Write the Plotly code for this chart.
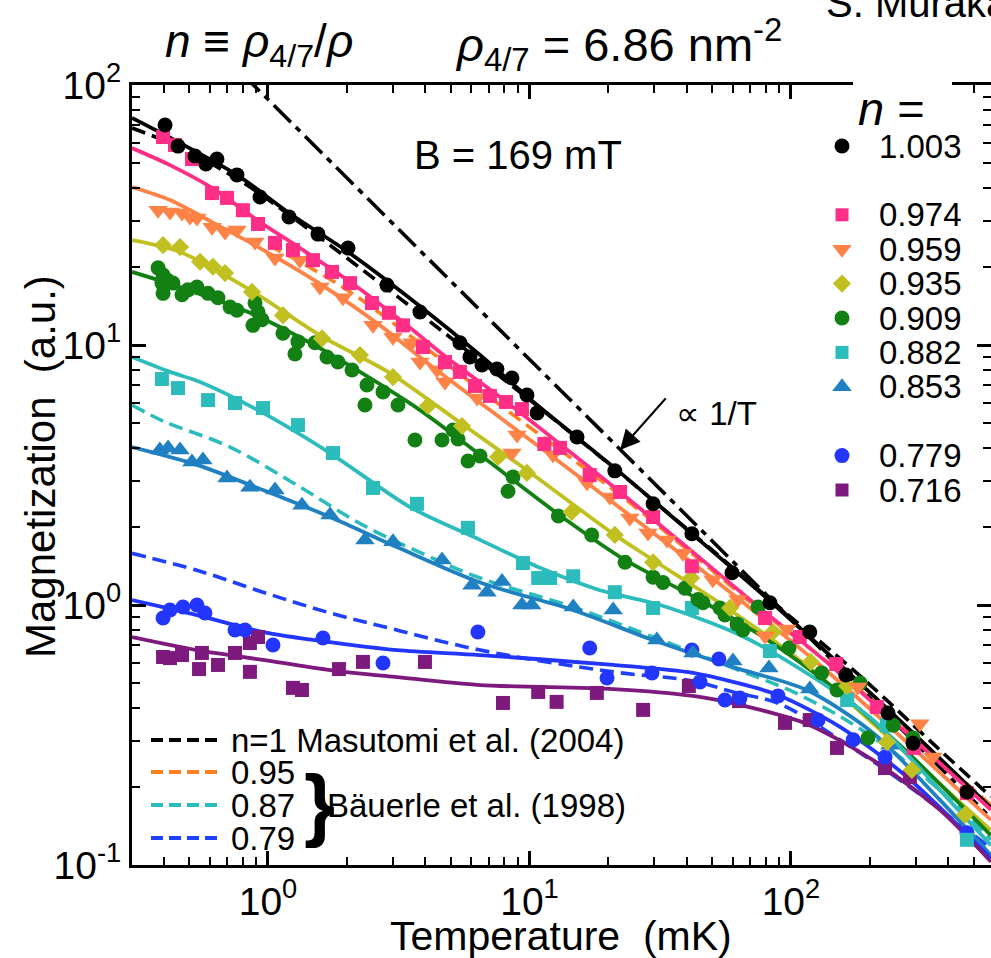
import plotly.graph_objects as go

# ---------------------------------------------------------------- data
# Magnetization (a.u.) vs temperature (mK) for several fillings n = rho_4/7 / rho
n_labels = ["1.003", "0.974", "0.959", "0.935", "0.909", "0.882", "0.853", "0.779", "0.716"]

T_1003 = [0.404, 0.453, 0.526, 0.579, 0.638, 0.761, 0.932, 1.203, 1.553, 2.023, 2.852, 3.814, 5.42, 5.92,
          6.58, 7.51, 8.57, 9.78, 10.7, 15.2, 21.2, 29.7, 41.8, 59.5, 83.1, 118, 162, 235, 293, 471]
M_1003 = [70.2, 58.2, 53.3, 49.7, 51.9, 45.1, 37.1, 31.1, 26.7, 23.6, 17.0, 13.4, 10.2, 9.0,
          8.38, 8.09, 7.47, 6.42, 5.48, 4.43, 3.28, 2.45, 1.88, 1.33, 1.02, 0.787, 0.538, 0.384, 0.294, 0.191]

T_0974 = [0.397, 0.441, 0.512, 0.611, 0.697, 0.802, 0.916, 1.064, 1.246, 1.486, 1.757, 2.059, 2.498, 2.902,
          3.282, 3.914, 4.753, 5.42, 6.19, 7.06, 8.13, 9.36, 11.4, 13.1, 17.0, 22.2, 29.7, 41.8, 79.6, 108,
          149, 213, 295, 471]
M_0974 = [63.1, 58.8, 51.9, 38.4, 36.8, 33.0, 29.2, 24.7, 23.2, 21.2, 19.1, 17.3, 14.5, 13.3,
          11.9, 9.82, 8.60, 7.88, 6.96, 6.37, 6.04, 5.67, 4.16, 4.02, 3.16, 2.72, 2.18, 1.41, 0.891, 0.753,
          0.593, 0.405, 0.282, 0.189]

T_0959 = [0.380, 0.422, 0.469, 0.503, 0.535, 0.611, 0.685, 0.761, 0.892, 1.064, 1.325, 1.580, 1.935, 2.521,
          3.006, 3.553, 3.814, 4.429, 4.753, 6.30, 8.57, 8.96, 12.3, 16.6, 20.3, 24.2, 28.4, 33.6, 38.6,
          50.3, 62.7, 79.6, 96.5, 180, 311, 349]
M_0959 = [33.0, 32.5, 32.2, 31.1, 30.8, 28.4, 27.2, 27.7, 24.9, 21.6, 21.2, 16.7, 15.2, 11.9,
          10.7, 10.2, 8.60, 8.01, 7.21, 6.25, 3.84, 4.51, 3.78, 2.95, 2.60, 2.16, 1.89, 1.78, 1.58,
          1.25, 1.05, 0.760, 0.809, 0.484, 0.349, 0.260]

T_0935 = [0.397, 0.461, 0.550, 0.616, 0.685, 0.869, 1.141, 1.609, 2.248, 3.006, 4.09, 5.52, 7.58, 9.78,
          14.5, 21.2, 29.7, 41.5, 58.5, 85.3, 119, 164, 233, 290, 463]
M_0935 = [24.2, 23.8, 20.9, 20.0, 18.9, 16.0, 13.0, 10.6, 9.15, 7.53, 5.83, 4.88, 3.71, 3.22,
          2.28, 1.86, 1.46, 1.27, 0.974, 0.787, 0.604, 0.488, 0.297, 0.232, 0.156]

T_0909 = [0.380, 0.397, 0.393, 0.411, 0.433, 0.397, 0.469, 0.494, 0.535, 0.590, 0.644, 0.716, 0.761, 0.892,
          0.916, 0.876, 0.948, 1.141, 1.302, 1.268, 1.513, 1.681, 1.852, 2.096, 2.391, 2.754, 3.142, 2.349,
          3.648, 4.63, 5.10, 5.33, 5.82, 6.47, 8.28, 8.65, 12.9, 17.3, 23.2, 29.7, 32.4, 39.3, 44.1, 46.1,
          53.5, 55.9, 62.2, 65.5, 74.8, 98.3, 131, 150, 184, 197, 246, 293]
M_0909 = [19.8, 18.6, 17.3, 17.8, 17.3, 15.8, 15.6, 16.3, 16.7, 15.8, 15.2, 14.0, 13.6, 14.5,
          13.4, 11.9, 12.5, 11.1, 10.3, 9.23, 10.2, 8.99, 8.60, 8.01, 7.02, 6.60, 5.88, 5.88,
          4.31, 4.31, 4.71, 4.35, 3.58, 3.74, 2.74, 3.11, 2.20, 1.86, 1.46, 1.28, 1.22, 1.16, 1.05, 1.02,
          0.974, 0.915, 0.845, 0.801, 0.982, 0.683, 0.548, 0.471, 0.501, 0.308, 0.345, 0.308]

T_0882 = [0.393, 0.453, 0.590, 0.748, 0.957, 1.302, 1.773, 2.521, 3.713, 5.82, 9.44, 10.8, 12.0, 14.7,
          21.2, 29.7, 41.8, 62.2, 83.1, 164, 233, 471]
M_0882 = [7.40, 6.83, 6.14, 5.98, 5.72, 4.92, 3.84, 2.82, 2.45, 1.98, 1.45, 1.27, 1.27, 1.29,
          1.12, 0.974, 0.974, 0.838, 0.665, 0.431, 0.345, 0.125]

T_0853 = [0.386, 0.415, 0.461, 0.512, 0.564, 0.697, 0.853, 1.064, 1.349, 1.727, 2.349, 3.006, 4.63, 6.03,
          6.88, 7.85, 9.36, 10.2, 14.7, 20.9, 30.7, 42.2, 60.0, 82.4, 118, 239]
M_0853 = [3.95, 4.02, 3.95, 3.55, 3.61, 3.08, 2.84, 2.77, 2.42, 2.22, 1.78, 1.75, 1.49, 1.19,
          1.12, 1.23, 1.00, 1.00, 0.982, 0.957, 0.733, 0.654, 0.609, 0.573, 0.475, 0.289]

T_0779 = [0.397, 0.422, 0.473, 0.535, 0.574, 0.748, 0.817, 1.045, 1.623, 2.754, 6.35, 17.0, 19.8, 29.4,
          41.8, 44.9, 53.0, 55.9, 63.8, 89.2, 127, 173, 229, 471]
M_0779 = [0.891, 0.957, 0.982, 1.00, 0.932, 0.801, 0.801, 0.702, 0.747, 0.598, 0.787, 0.683, 0.524, 0.548,
          0.671, 0.506, 0.620, 0.431, 0.439, 0.447, 0.361, 0.303, 0.260, 0.133]

T_0716 = [0.397, 0.422, 0.469, 0.559, 0.545, 0.644, 0.748, 0.853, 0.916, 0.853, 1.246, 1.349, 1.868, 2.308,
          3.984, 7.92, 10.8, 12.7, 18.1, 27.2, 40.7, 63.3, 94.9, 118, 150, 229, 285]
M_0716 = [0.631, 0.625, 0.642, 0.654, 0.567, 0.588, 0.654, 0.714, 0.753, 0.553, 0.480, 0.471, 0.567, 0.604,
          0.604, 0.420, 0.463, 0.424, 0.459, 0.395, 0.488, 0.427, 0.352, 0.361, 0.282, 0.236, 0.218]

# fitted curves (solid lines), one per filling
fitT_1003 = [0.302, 0.453, 0.761, 1.203, 2.023, 3.814, 6.47, 10.7, 21.2, 41.8, 83.1, 162, 293, 582]
fitM_1003 = [74.7, 60.4, 45.1, 32.2, 22.8, 14.1, 9.15, 5.88, 3.36, 1.88, 1.036, 0.562, 0.322, 0.166]
fitT_0974 = [0.302, 0.422, 0.611, 0.932, 1.325, 2.059, 3.198, 4.966, 7.71, 13.08, 22.2, 41.1, 76.1, 141, 261, 582]
fitM_0974 = [57.2, 49.2, 40.2, 29.7, 23.6, 17.5, 12.5, 8.75, 6.31, 4.16, 2.72, 1.63, 0.974, 0.588, 0.340, 0.163]
fitT_0959 = [0.302, 0.422, 0.611, 0.932, 1.609, 2.681, 4.165, 7.06, 11.98, 20.3, 37.6, 69.7, 129, 239, 582]
fitM_0959 = [40.5, 36.1, 29.7, 23.6, 17.0, 11.9, 8.38, 5.62, 3.78, 2.53, 1.58, 0.974, 0.588, 0.340, 0.149]
fitT_0935 = [0.302, 0.461, 0.853, 1.580, 2.928, 5.52, 9.78, 21.2, 29.7, 58.5, 118, 219, 582]
fitM_0935 = [25.3, 22.8, 16.3, 10.9, 7.80, 4.97, 3.30, 1.86, 1.49, 0.957, 0.573, 0.331, 0.136]
fitT_0909 = [0.302, 0.461, 0.853, 1.448, 2.248, 3.814, 6.47, 12.85, 23.2, 44.9, 76.1, 141, 261, 582]
fitM_0909 = [19.1, 16.7, 13.3, 10.2, 7.88, 5.62, 3.78, 2.24, 1.49, 1.045, 0.767, 0.492, 0.289, 0.130]
fitT_0882 = [0.302, 0.422, 0.550, 0.957, 1.727, 3.491, 6.47, 10.97, 18.6, 31.6, 63.8, 118, 206, 371, 582]
fitM_0882 = [8.99, 7.88, 7.21, 5.48, 3.84, 2.38, 1.78, 1.39, 1.14, 1.00, 0.767, 0.538, 0.361, 0.194, 0.119]
fitT_0853 = [0.302, 0.535, 0.957, 1.727, 3.113, 6.47, 14.67, 29.7, 60.0, 115, 206, 371, 582]
fitM_0853 = [4.05, 3.46, 2.77, 2.18, 1.67, 1.22, 0.957, 0.733, 0.577, 0.471, 0.322, 0.178, 0.109]
fitT_0779 = [0.302, 0.535, 0.957, 1.727, 3.113, 6.47, 20.9, 42.2, 60.0, 89.2, 154, 278, 582]
fitM_0779 = [1.045, 0.915, 0.787, 0.720, 0.671, 0.642, 0.588, 0.548, 0.506, 0.451, 0.340, 0.218, 0.106]
fitT_0716 = [0.302, 0.535, 0.957, 1.727, 3.113, 6.47, 20.9, 42.2, 63.8, 115, 206, 371, 582]
fitM_0716 = [0.753, 0.671, 0.615, 0.562, 0.528, 0.492, 0.475, 0.447, 0.413, 0.349, 0.253, 0.163, 0.103]

# literature curves (dashed)
masutomi_T = [0.302, 0.422, 0.600, 0.853, 1.325, 2.681, 5.42, 10.97, 22.2, 44.9, 90.8, 184, 371, 582]
masutomi_M = [68.3, 59.8, 50.1, 40.5, 29.5, 17.3, 10.0, 5.72, 3.22, 1.78, 0.974, 0.533, 0.277, 0.183]
bauerle095_T = [1.0, 1.325, 2.059, 3.198, 5.28, 7.71, 13.08, 22.2, 41.1, 76.1, 141, 261, 582]
bauerle095_M = [24.2, 20.9, 16.0, 11.6, 7.88, 5.88, 3.95, 2.65, 1.60, 0.957, 0.593, 0.345, 0.170]
bauerle087_T = [0.302, 0.397, 0.716, 1.291, 2.308, 4.165, 6.47, 14.67, 29.7, 60.0, 108, 200, 371, 582]
bauerle087_M = [5.88, 5.10, 4.05, 2.89, 2.03, 1.53, 1.27, 0.982, 0.753, 0.573, 0.451, 0.316, 0.194, 0.125]
bauerle079_T = [0.302, 0.535, 0.957, 1.727, 3.113, 6.47, 20.9, 42.2, 60.0, 90.8, 154, 278, 582]
bauerle079_M = [1.58, 1.36, 1.12, 0.932, 0.801, 0.671, 0.553, 0.510, 0.463, 0.416, 0.303, 0.203, 0.116]

# Curie law guide line
curie_T = [0.8, 600]
curie_M = [110, 0.147]

x_tick_vals = [1, 10, 100]
x_tick_text = ["10<sup>0</sup>", "10<sup>1</sup>", "10<sup>2</sup>"]
y_tick_vals = [0.1, 1, 10, 100]
y_tick_text = ["10<sup>-1</sup>", "10<sup>0</sup>", "10<sup>1</sup>", "10<sup>2</sup>"]
x_minor = [0.4, 0.5, 0.6, 0.7, 0.8, 0.9, 2, 3, 4, 5, 6, 7, 8, 9,
           20, 30, 40, 50, 60, 70, 80, 90, 200, 300, 400, 500]
y_minor = [0.2, 0.3, 0.4, 0.5, 0.6, 0.7, 0.8, 0.9, 2, 3, 4, 5, 6, 7, 8, 9,
           20, 30, 40, 50, 60, 70, 80, 90]

# ---------------------------------------------------------------- style
FONT = "Liberation Sans, Arial, sans-serif"
W, H = 991, 958
PL, PR, PT, PB = 132, 991, 85, 865          # plot-area box in page pixels
X_RANGE = [-0.520, 2.765]
Y_RANGE = [-1, 2]

colors = ["#000000", "#FF2E86", "#FF8246", "#C0C020", "#138013",
          "#2CBCBC", "#1F80C2", "#2236FF", "#7E1A7E"]
symbols = ["circle", "square", "triangle-down", "diamond", "circle",
           "square", "triangle-up", "circle", "square"]
sizes = [15, 14, 17, 14, 15, 14, 17, 15, 14]

series = [
    (T_1003, M_1003, fitT_1003, fitM_1003),
    (T_0974, M_0974, fitT_0974, fitM_0974),
    (T_0959, M_0959, fitT_0959, fitM_0959),
    (T_0935, M_0935, fitT_0935, fitM_0935),
    (T_0909, M_0909, fitT_0909, fitM_0909),
    (T_0882, M_0882, fitT_0882, fitM_0882),
    (T_0853, M_0853, fitT_0853, fitM_0853),
    (T_0779, M_0779, fitT_0779, fitM_0779),
    (T_0716, M_0716, fitT_0716, fitM_0716),
]

DASH = "14px,7px"


def paper(px, py):
    """page pixel -> paper coordinates of the plot area"""
    return (px - PL) / (PR - PL), (PB - py) / (PB - PT)


fig = go.Figure()

# reference curves
fig.add_trace(go.Scatter(x=curie_T, y=curie_M, mode="lines",
                         line=dict(color="black", width=3.6, dash="24px,7px,6px,7px")))
fig.add_trace(go.Scatter(x=masutomi_T, y=masutomi_M, mode="lines", line_shape="spline",
                         line=dict(color="black", width=3.6, dash=DASH)))
ref_curves = [(bauerle095_T, bauerle095_M, "#FF8020"),
              (bauerle087_T, bauerle087_M, "#2CBCBC"),
              (bauerle079_T, bauerle079_M, "#2040FF")]
for rt, rm, rc in ref_curves:
    fig.add_trace(go.Scatter(x=rt, y=rm, mode="lines", line_shape="spline",
                             line=dict(color=rc, width=3.6, dash=DASH)))

# fitted curves
for (t, m, ft, fm), c in zip(series, colors):
    fig.add_trace(go.Scatter(x=ft, y=fm, mode="lines", line_shape="spline",
                             line=dict(color=c, width=3.8, smoothing=0.8)))

# measured points (drawn from the lowest filling up so the top series stays on top)
for (t, m, ft, fm), c, s, z in reversed(list(zip(series, colors, symbols, sizes))):
    fig.add_trace(go.Scatter(x=t, y=m, mode="markers",
                             marker=dict(color=c, symbol=s, size=z, opacity=1, line=dict(width=0))))

# ---------------------------------------------------------------- key (drawn on a pixel overlay)
OV = dict(xaxis="x2", yaxis="y2")
key_rows = [0, 2, 3, 4, 5, 6, 7, 9, 10]
key_y0, key_pitch, key_mx, key_tx = 146, 34.4, 842, 877
key_y = [key_y0 + r * key_pitch for r in key_rows]
fig.add_trace(go.Scatter(x=[key_mx] * len(key_y), y=key_y, mode="markers",
                         marker=dict(color=colors, symbol=symbols, size=[15, 13, 17, 14, 15, 13, 17, 15, 13],
                                     opacity=1, line=dict(width=0)), **OV))

ref_key = [("n=1 Masutomi et al. (2004)", "black", 740),
           ("0.95", "#FF8020", 772),
           ("0.87", "#2CBCBC", 805),
           ("0.79", "#2040FF", 838)]
for _, c, yy in ref_key:
    fig.add_trace(go.Scatter(x=[151, 222], y=[yy, yy], mode="lines",
                             line=dict(color=c, width=4.2, dash="12px,6px"), **OV))

annotations = []


def text_px(txt, px, py, size, anchor="left", ref="paper", **kw):
    if ref == "paper":
        x, y = paper(px, py)
        xr, yr = "paper", "paper"
    else:
        x, y, xr, yr = px, py, "x2", "y2"
    annotations.append(dict(text=txt, x=x, y=y, xref=xr, yref=yr, xanchor=anchor, yanchor="middle",
                            showarrow=False, font=dict(family=FONT, size=size, color="black"), **kw))


for lab, yy in zip(n_labels, key_y):
    text_px(lab, key_tx, yy, 33, ref="px")
text_px("<i>n</i> =", 856, 108, 47, ref="px")

for lab, _, yy in ref_key:
    text_px(lab, 229, yy, 33, ref="px")
text_px("<b>}</b>", 302, 803, 80, ref="px")
text_px("Bäuerle et al. (1998)", 325, 805, 33, ref="px")

text_px("B = 169 mT", 518, 155, 40, anchor="center", ref="px")
text_px("\u221d\u00a01/T", 674, 413, 33, ref="px")

# titles and axis labels
text_px("<i>n</i> \u2261 <i>\u03c1</i><sub>4/7</sub>/<i>\u03c1</i>", 163, 45, 46)
text_px("<i>\u03c1</i><sub>4/7</sub> = 6.86 nm<sup>-2</sup>", 453, 45, 47)
text_px("S. Murakawa et al.", 824, 3, 40)
text_px("Temperature\u00a0 (mK)", 561, 936, 41, anchor="center")
text_px("Magnetization\u00a0 (a.u.)", 40, 467, 42, anchor="center", textangle=-90)

# arrow pointing at the Curie line
annotations.append(dict(x=1.3464, y=0.5966, xref="x", yref="y", text="", showarrow=True,
                        ax=47, ay=-53, arrowhead=2, arrowsize=1.8, arrowwidth=2.2, arrowcolor="black"))

# white patch where the key interrupts the top frame
x0, y0 = paper(853, 101)
x1, y1 = paper(952, 76)
shapes = [dict(type="rect", xref="paper", yref="paper", x0=x0, x1=x1, y0=y0, y1=y1,
               fillcolor="white", line=dict(width=0), layer="above")]

tick_style = dict(ticks="inside", ticklen=14, tickwidth=2.5, tickcolor="black",
                  showgrid=False, zeroline=False)
minor_style = dict(ticks="inside", ticklen=8, tickwidth=2, tickcolor="black", showgrid=False)
tick_font = dict(family=FONT, size=39, color="black")

fig.update_layout(
    width=W, height=H,
    margin=dict(l=PL, r=W - PR, t=PT, b=H - PB),
    paper_bgcolor="white", plot_bgcolor="white",
    showlegend=False,
    font=dict(family=FONT, color="black"),
    xaxis=dict(type="log", range=X_RANGE, tickvals=x_tick_vals, ticktext=x_tick_text,
               showline=True, linecolor="black", linewidth=3, mirror="ticks", tickfont=tick_font,
               minor=dict(tickvals=x_minor, **minor_style), **tick_style),
    yaxis=dict(type="log", range=Y_RANGE, tickvals=y_tick_vals, ticktext=y_tick_text,
               showline=True, linecolor="black", linewidth=3, mirror=False, tickfont=tick_font,
               minor=dict(tickvals=y_minor, **minor_style), **tick_style),
    # right-hand ticks only (the frame's right edge lies just past the page)
    yaxis3=dict(type="log", range=Y_RANGE, overlaying="y", side="right", anchor="x",
                tickvals=y_tick_vals, showticklabels=False, showline=False,
                minor=dict(tickvals=y_minor, **minor_style), **tick_style),
    xaxis2=dict(overlaying="x", range=[PL, PR], visible=False, fixedrange=True),
    yaxis2=dict(overlaying="y", range=[PB, PT], visible=False, fixedrange=True),
    annotations=annotations,
    shapes=shapes,
)

# an empty trace keeps the right-hand tick axis active
fig.add_trace(go.Scatter(x=[], y=[], yaxis="y3", xaxis="x", showlegend=False))

fig.write_html("out.html")
